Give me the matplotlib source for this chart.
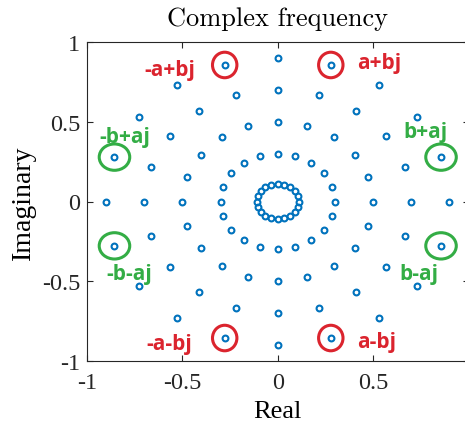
import numpy as np
import matplotlib
matplotlib.use("Agg")
import matplotlib.pyplot as plt
from matplotlib.patches import Ellipse

# Pole rings (radius) and the angles (degrees) at which poles sit on every ring
ring_radii = [0.11, 0.3, 0.5, 0.7, 0.9]
pole_angles_deg = [0, 18, 36, 54, 72, 90, 108, 126, 144, 162,
                   180, 198, 216, 234, 252, 270, 288, 306, 324, 342]

# Highlighted poles on the outer ring
highlight_radius = 0.9
red_angles_deg = [72, 108, 252, 288]
red_labels = ["a+bj", "-a+bj", "-a-bj", "a-bj"]
green_angles_deg = [18, 162, 198, 342]
green_labels = ["b+aj", "-b+aj", "-b-aj", "b-aj"]

# Label anchor positions (data units)
red_label_xy = [(0.53, 0.87), (-0.565, 0.83), (-0.57, -0.89), (0.52, -0.88)]
green_label_xy = [(0.775, 0.44), (-0.80, 0.41), (-0.78, -0.45), (0.742, -0.45)]

blue = (0.0, 0.447, 0.741)
red = (0.86, 0.14, 0.18)
green = (0.20, 0.68, 0.27)

fig = plt.figure(figsize=(4.65, 4.31), dpi=100)
ax = fig.add_axes([87 / 465, 69 / 431, (468.5 - 87) / 465, (362 - 43) / 431])

r = np.array(ring_radii)[:, None]
th = np.deg2rad(np.array(pole_angles_deg))[None, :]
z = (r * np.exp(1j * th)).ravel()
ax.plot(z.real, z.imag, linestyle="none", marker="o", markersize=4.2,
        markerfacecolor="none", markeredgecolor=blue, markeredgewidth=1.5,
        zorder=3)


def outline(angles, w, h, color):
    for a in angles:
        p = highlight_radius * np.exp(1j * np.deg2rad(a))
        ax.add_patch(Ellipse((p.real, p.imag), w, h, fill=False,
                             edgecolor=color, linewidth=2.2, zorder=4))


outline(red_angles_deg, 0.128, 0.16, red)
outline(green_angles_deg, 0.16, 0.165, green)

label_font = dict(family="Open Sans", fontweight="bold", fontsize=15,
                  ha="center", va="center")
for (x, y), s in zip(red_label_xy, red_labels):
    ax.text(x, y, s, color=red, **label_font)
for (x, y), s in zip(green_label_xy, green_labels):
    ax.text(x, y, s, color=green, **label_font)

ax.set_xlim(-1, 1)
ax.set_ylim(-1, 1)
ax.set_xticks([-1, -0.5, 0, 0.5, 1])
ax.set_xticklabels(["-1", "-0.5", "0", "0.5", "1"])
ax.set_yticks([-1, -0.5, 0, 0.5, 1])
ax.set_yticklabels(["-1", "-0.5", "0", "0.5", "1"])
ax.tick_params(direction="in", length=4, width=0.8, colors="#262626",
               top=True, right=True, labelsize=17.5)
ax.tick_params(axis="x", pad=8)
ax.tick_params(axis="y", pad=5)
for lab in ax.get_xticklabels() + ax.get_yticklabels():
    lab.set_family("Liberation Serif")
for sp in ax.spines.values():
    sp.set_color("#262626")
    sp.set_linewidth(0.8)

ax.set_xlabel("Real", family="Liberation Serif", fontsize=19, labelpad=5)
ax.set_ylabel("Imaginary", family="Liberation Serif", fontsize=20, labelpad=4)
ax.set_title("Complex frequency", family="cmr10", fontsize=19, pad=12)

fig.savefig("out.png", dpi=100)
